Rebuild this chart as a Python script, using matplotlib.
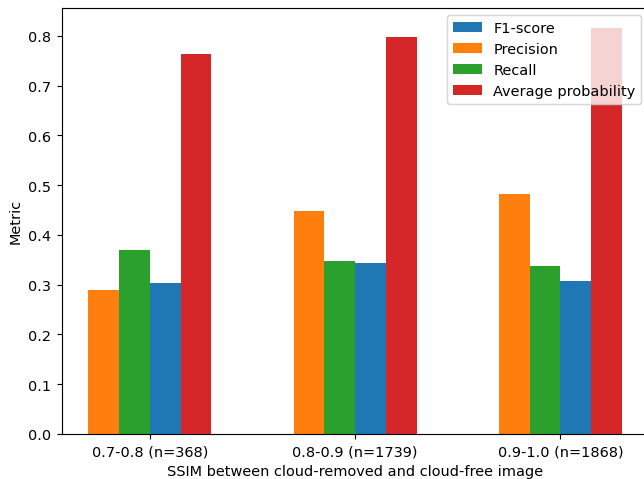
import numpy as np
import matplotlib.pyplot as plt

groups = ['0.7-0.8 (n=368)', '0.8-0.9 (n=1739)', '0.9-1.0 (n=1868)']
precision = [0.289, 0.448, 0.482]
recall = [0.370, 0.348, 0.338]
f1_score = [0.303, 0.343, 0.308]
avg_prob = [0.764, 0.798, 0.816]

x = np.arange(len(groups))
w = 0.15

dpi = 104
fig, ax = plt.subplots(figsize=(644 / dpi, 480 / dpi), dpi=dpi)
fig.subplots_adjust(left=0.0955, right=1.0073, bottom=0.0938, top=0.982)

b_p = ax.bar(x - 1.5 * w, precision, w, color='tab:orange', label='Precision')
b_r = ax.bar(x - 0.5 * w, recall, w, color='tab:green', label='Recall')
b_f = ax.bar(x + 0.5 * w, f1_score, w, color='tab:blue', label='F1-score')
b_a = ax.bar(x + 1.5 * w, avg_prob, w, color='tab:red', label='Average probability')

ax.set_xticks(x)
ax.set_xticklabels(groups)
ax.set_xlabel('SSIM between cloud-removed and cloud-free image')
ax.set_ylabel('Metric')
ax.legend(handles=[b_f, b_p, b_r, b_a], loc='upper right')

plt.savefig('out.png', dpi=dpi)
